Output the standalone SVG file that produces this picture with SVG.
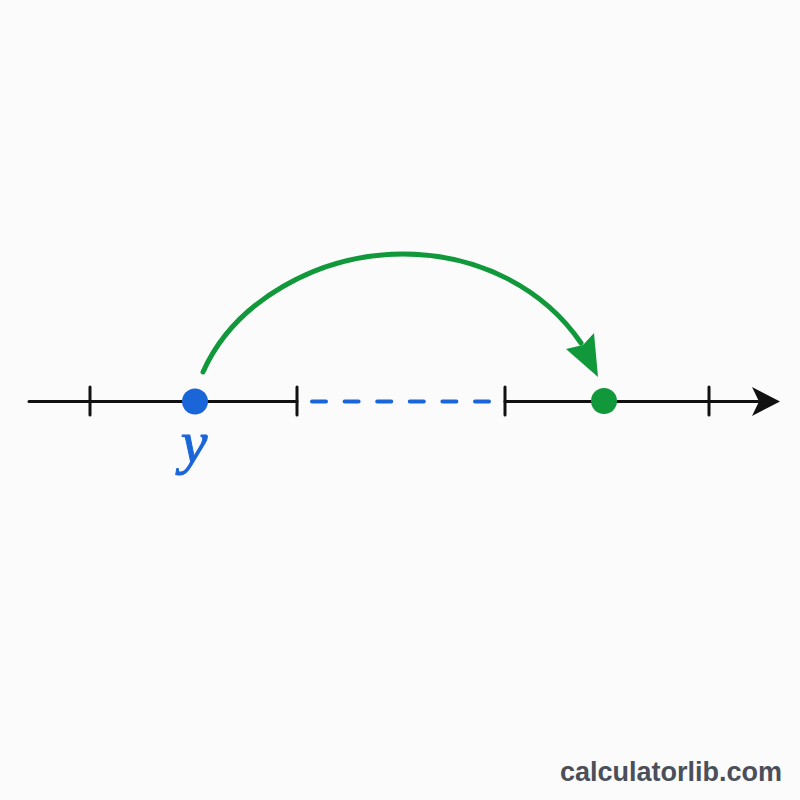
<svg xmlns="http://www.w3.org/2000/svg" width="800" height="800" viewBox="0 0 800 800">
<style>
.axis{stroke:#111;stroke-width:3;fill:none;stroke-linecap:round}
.tick{stroke:#111;stroke-width:3;stroke-linecap:round}
.dash{stroke:#1a66d9;stroke-width:4;stroke-dasharray:14 18.6;stroke-linecap:round;fill:none}
.jump{stroke:#11983a;stroke-width:5;fill:none;stroke-linecap:round}
.lbl{font-family:"Liberation Serif",serif;font-style:italic;fill:#1a66d9;stroke:#1a66d9;stroke-width:1}
.wm{font-family:"Liberation Sans",Arial,sans-serif;font-weight:bold;fill:#4a4f5a}
</style>
<rect width="800" height="800" fill="#fbfbfb"/>
<g id="axis">
<line class="axis" x1="29" y1="401.5" x2="297" y2="401.5"/>
<line class="axis" x1="505" y1="401.5" x2="758" y2="401.5"/>
<path d="M752,387 L780,401.5 L752,416 L759,401.5 z" fill="#111"/>
<line class="tick" x1="90" y1="387" x2="90" y2="415"/>
<line class="tick" x1="297" y1="387" x2="297" y2="415"/>
<line class="tick" x1="505" y1="387" x2="505" y2="415"/>
<line class="tick" x1="709" y1="387" x2="709" y2="415"/>
</g>
<g id="connectors">
<line class="dash" x1="312" y1="401.5" x2="492" y2="401.5"/>
<path class="jump" d="M203,372 C235,300 320,254 403,254 C480,254 545,290 581,343"/>
<path d="M598,377 L566,349 L583,345 L594,333 z" fill="#11983a"/>
</g>
<g id="point-y">
<circle cx="195" cy="401.5" r="13" fill="#1a66d9"/>
<text class="lbl" x="194" y="462" font-size="60" text-anchor="middle">y</text>
</g>
<g id="point-target">
<circle cx="604" cy="401" r="13" fill="#11983a"/>
</g>
<g id="watermark">
<text class="wm" x="782" y="781" font-size="27" text-anchor="end">calculatorlib.com</text>
</g>
</svg>
